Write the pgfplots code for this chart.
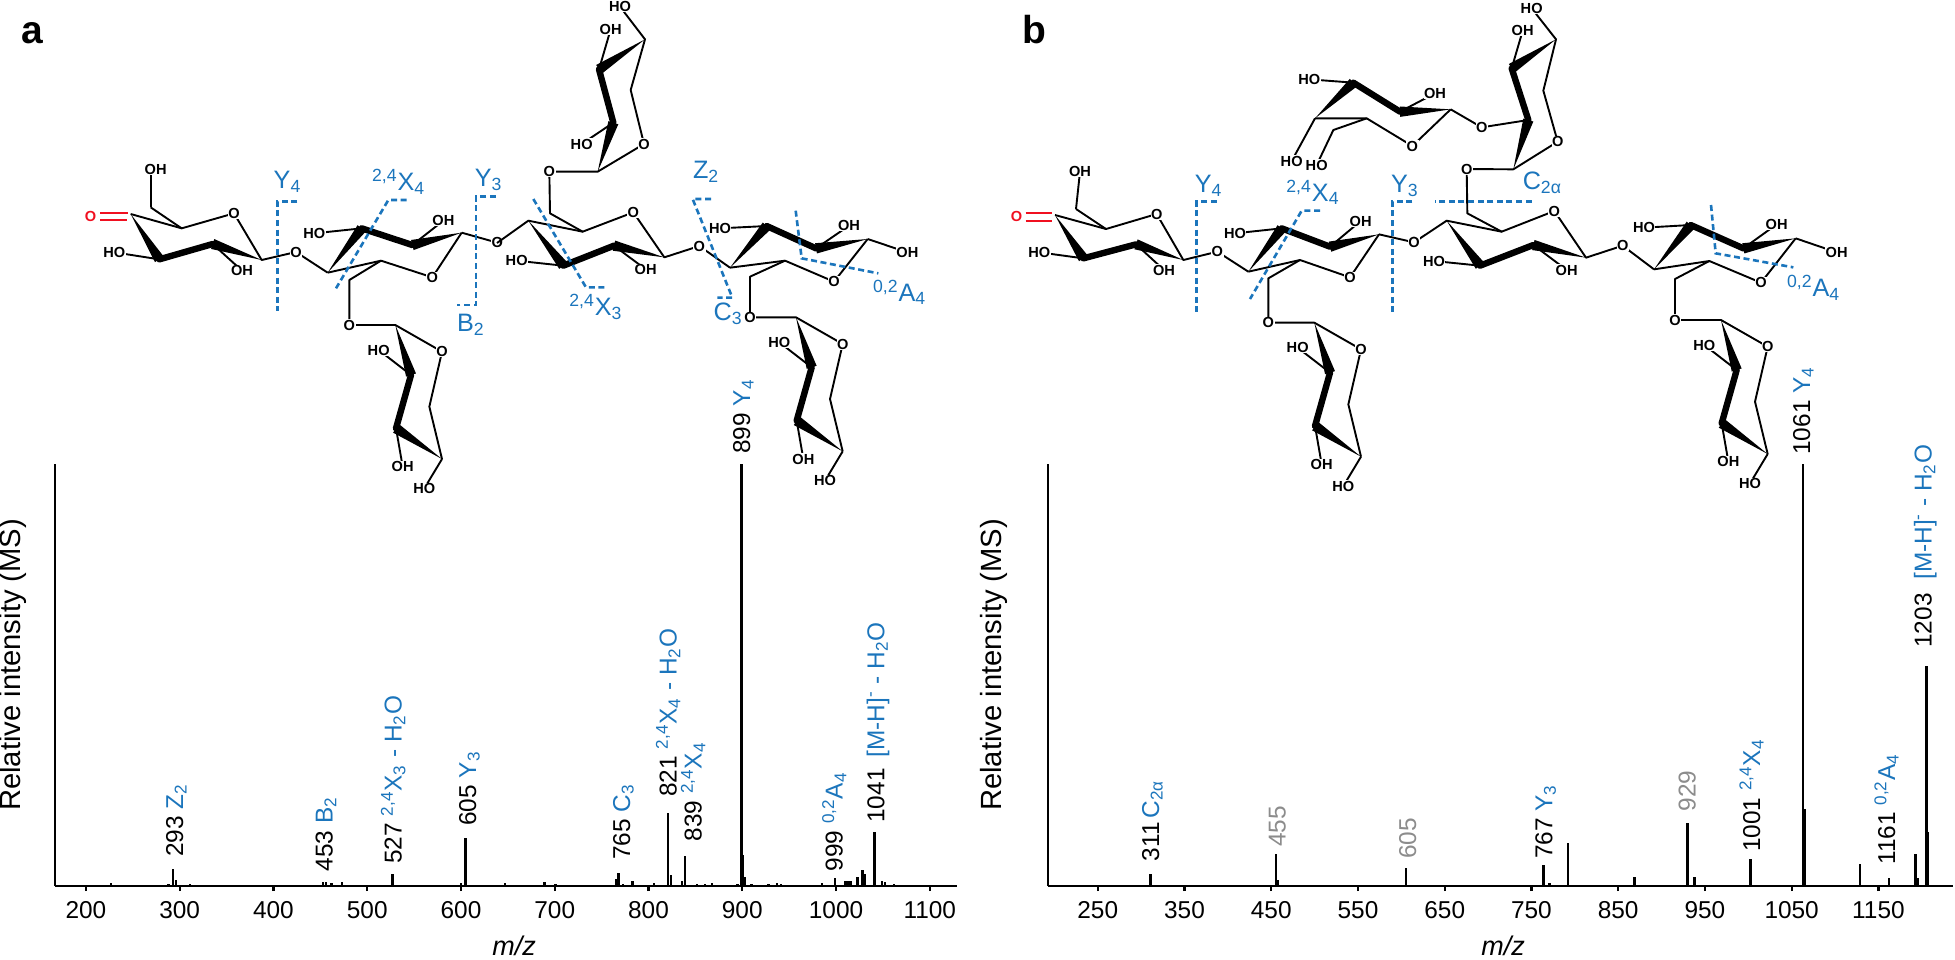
\documentclass[border=0pt]{standalone}
\usepackage{fontspec}
\setmainfont{Liberation Sans}
\usepackage{pgfplots}
\pgfplotsset{compat=1.18}
\usetikzlibrary{calc}
\definecolor{fblue}{HTML}{1B75BC}
\definecolor{fgray}{HTML}{8C8C8C}
\definecolor{fred}{HTML}{F01020}

% 1 px of the figure = 0.5pt here
\newcommand{\lblfont}{\fontsize{12.2}{14}\selectfont}
\newcommand{\atomfont}{\fontsize{7.3}{8}\selectfont\bfseries}
\newcommand{\bl}[1]{\textcolor{fblue}{#1}}
\newcommand{\sub}[1]{\textsubscript{#1}}
\newcommand{\sups}[1]{\textsuperscript{#1}}
% rotated peak label: baseline x, lower end y
\newcommand{\lab}[3]{\node[rotate=90,anchor=base west,inner sep=0pt,font=\lblfont] at (#1,#2) {#3};}
% molecule helpers, coordinates as given in the local scope
\newcommand{\wg}[2]{\fill ($(#1)$) -- ($(#2)!2.6pt!90:(#1)$) -- ($(#2)!2.6pt!-90:(#1)$) -- cycle;}
\newcommand{\tb}[2]{\draw[line width=3.2pt,line cap=round] (#1) -- (#2);}
\newcommand{\bd}[1]{\draw[line width=0.95pt,line join=round] #1;}
\newcommand{\atm}[2]{\node[fill=white,inner sep=0.25pt,font=\atomfont] at (#1) {#2};}
\newcommand{\dsh}[1]{\draw[fblue,line width=1.3pt,dash pattern=on 3pt off 1.8pt] #1;}
\newcommand{\blab}[2]{\node[anchor=base west,inner sep=0pt,text=fblue,font=\fontsize{12.6}{14}\selectfont] at (#1) {#2};}
% arabinose-type ring hanging below an O atom
\newcommand{\xyl}[2]{\begin{scope}[shift={(#1,#2)}]
  \bd{(0,0) -- (138,0) -- (278,80) -- (240,245) -- (278,402)}
  \bd{(185,150) -- (88,75)}
  \bd{(140,310) -- (160,425)}
  \bd{(278,402) -- (225,490)}
  \wg{138,0}{185,150}
  \tb{185,150}{140,310}
  \wg{278,402}{140,310}
  \atm{0,0}{O}\atm{278,80}{O}\atm{88,75}{HO}\atm{160,425}{OH}\atm{225,490}{HO}
\end{scope}}

\pgfplotsset{
  spec/.style={
    scale only axis, anchor=south west, clip=false,
    axis lines=left, axis line style={-,line width=1.25pt,black},
    tick align=outside, major tick length=2.6pt,
    tick style={black,line width=1.1pt},
    ytick=\empty, ymin=0, ymax=100,
    height=211pt,
    /pgf/number format/assume math mode=true,
    /pgf/number format/set thousands separator={},
    x tick label style={font=\fontsize{12.2}{14}\selectfont,yshift=-1.6pt},
    xlabel={\textit{m/z}}, ylabel={Relative intensity (MS)},
  },
  peak/.style={ycomb, black, mark=none, line width=1.2pt},
}

\begin{document}
\begin{tikzpicture}[x=0.5pt,y=-0.5pt]
\path[use as bounding box] (0,0) rectangle (1955,959);

% ---------- spectra
\begin{axis}[spec, at={(27.5pt,-443pt)}, width=451pt, xmin=167, xmax=1129,
  xtick={200,300,...,1100},
  every axis x label/.style={at={(axis description cs:0.509,0)},anchor=north,yshift=-21.5pt,font=\fontsize{13.5}{15}\selectfont},
  every axis y label/.style={at={(axis description cs:-0.0466,0.524)},rotate=90,anchor=center,font=\fontsize{14.6}{17}\selectfont}]
\addplot[peak] coordinates {
 (227,0.6) (288,0.4) (293,4.0) (296,1.4) (311,0.5) (412,0.2) (425,0.2) (440,0.3)
 (453,1.0) (456,1.0) (462,0.8) (473,1.0) (527,2.8) (552,0.3) (558,0.3) (570,0.3) (575,0.3)
 (605,11.3) (600,0.6) (622,0.3) (647,0.8) (689,1.0) (701,0.5) (712,0.2)
 (765,1.6) (768,3.2) (773,0.5) (783,1.1) (806,0.6)
 (821,17.2) (824,2.5) (836,1.3) (839,7.1) (852,0.4) (860,0.4) (868,0.8)
 (895,0.5) (899,100) (901,7.3) (903,2.2) (910,0.5) (928,0.5) (937,0.6) (941,0.5)
 (970,0.2) (977,0.2) (985,0.7) (999,2.0) (1010,1.3) (1012,1.3) (1014,1.3) (1016,1.3)
 (1023,2.2) (1028,3.8) (1031,2.8) (1041,12.9) (1049,1.3) (1052,1.0) (1062,0.5)};
\end{axis}

\begin{axis}[spec, at={(523.9pt,-443pt)}, width=452.6pt, xmin=192.4, xmax=1236,
  xtick={250,350,...,1150},
  every axis x label/.style={at={(axis description cs:0.503,0)},anchor=north,yshift=-21.5pt,font=\fontsize{13.5}{15}\selectfont},
  every axis y label/.style={at={(axis description cs:-0.0593,0.524)},rotate=90,anchor=center,font=\fontsize{14.6}{17}\selectfont}]
\addplot[peak] coordinates {
 (311,2.8) (455.6,7.7) (458,1.4) (605.6,4.2) (764,4.9) (770.7,0.8) (792,10.1)
 (868.6,2.2) (929.8,15) (937.9,2.2) (1002.5,6.3) (1063,100) (1064.7,18.2)
 (1129,5.2) (1162,2.0) (1192.8,7.7) (1195,2.0) (1205.5,52.1) (1207,12.7)};
\end{axis}

% ---------- peak labels, a
\lab{183}{857}{293 \bl{Z\sub{2}}}
\lab{332.7}{871.7}{453 \bl{B\sub{2}}}
\lab{401.7}{864}{527 \bl{\sups{2,4}X\sub{3} - H\sub{2}O}}
\lab{476}{826}{605 \bl{Y\sub{3}}}
\lab{630}{860}{765 \bl{C\sub{3}}}
\lab{676.7}{797}{821 \bl{\sups{2,4}X\sub{4} - H\sub{2}O}}
\lab{701.7}{841.7}{839 \bl{\sups{2,4}X\sub{4}}}
\lab{750}{454}{899 \bl{Y\sub{4}}}
\lab{842.7}{871.7}{999 \bl{\sups{0,2}A\sub{4}}}
\lab{884.3}{823}{1041 \,\bl{[M-H]\sups{-} - H\sub{2}O}}
% ---------- peak labels, b
\lab{1159}{861.7}{311\,\bl{C\sub{2α}}}
\lab{1285.7}{847.3}{\textcolor{fgray}{455}}
\lab{1416}{859.3}{\textcolor{fgray}{605}}
\lab{1552.3}{859.3}{767 \bl{Y\sub{3}}}
\lab{1695.7}{811.7}{\textcolor{fgray}{929}}
\lab{1760}{852.3}{1001 \bl{\sups{2,4}X\sub{4}}}
\lab{1810}{455}{1061 \bl{Y\sub{4}}}
\lab{1895}{865}{1161 \bl{\sups{0,2}A\sub{4}}}
\lab{1931.7}{648}{1203 \ \bl{[M-H]\sups{-} - H\sub{2}O}}

% panel letters
\node[anchor=base west,inner sep=0pt,font=\fontsize{19.5}{20}\selectfont\bfseries] at (21,43) {a};
\node[anchor=base west,inner sep=0pt,font=\fontsize{19.5}{20}\selectfont\bfseries] at (1022,43) {b};

% ---------- molecule a, left part
\begin{scope}[shift={(60,100)},x=0.16667pt,y=-0.16667pt]
  \bd{(212,342) -- (365,385) -- (522,340) -- (605,480) -- (708,456) -- (803,518)}
  \bd{(272,322) -- (365,385)}
  \bd{(272,322) -- (272,208)}
  \bd{(163,457) -- (298,478)}
  \bd{(546,512) -- (458,432)}
  \draw[fred,line width=0.9pt] (120,338) -- (205,338) (120,360) -- (200,360);
  \wg{212,342}{298,478}\tb{298,478}{458,432}\wg{605,480}{458,432}
  \atm{522,340}{O}\atm{708,456}{O}\atm{287,208}{OH}\atm{163,457}{HO}\atm{546,512}{OH}
  \node[text=fred,inner sep=0pt,font=\atomfont] at (92,348) {O};
  % second ring
  \bd{(1205,398) -- (1117,532) -- (963,482) -- (803,518)}
  \bd{(963,482) -- (868,540) -- (868,675)}
  \bd{(763,400) -- (905,385)}
  \bd{(1150,362) -- (1057,435)}
  \bd{(1205,398) -- (1312,428)}
  \wg{803,518}{905,385}\tb{905,385}{1057,435}\wg{1205,398}{1057,435}
  \atm{1117,532}{O}\atm{763,400}{HO}\atm{1150,362}{OH}\atm{1312,428}{O}
  \xyl{868}{675}
  \dsh{(712,305) -- (652,305) -- (652,632)}
  \dsh{(1040,300) -- (985,300) -- (828,565)}
  \dsh{(1308,290) -- (1248,290) -- (1248,615) -- (1190,615)}
  \blab{640,265}{Y\sub{4}}
  \blab{935,272}{\sups{2,4}X\sub{4}}
  \blab{1243,260}{Y\sub{3}}
  \blab{1190,695}{B\sub{2}}
\end{scope}

% ---------- molecule a, right part
\begin{scope}[shift={(500,0)},x=0.16667pt,y=-0.16667pt]
  \bd{(148,515) -- (293,515) -- (432,432) -- (392,270) -- (435,118) -- (360,20)}
  \bd{(245,432) -- (340,368)}
  \bd{(332,88) -- (297,208)}
  \wg{293,515}{340,368}\tb{340,368}{297,208}\wg{435,118}{297,208}
  \atm{432,432}{O}\atm{245,432}{HO}\atm{332,88}{OH}\atm{360,20}{HO}
  \bd{(148,515) -- (150,640) -- (248,695) -- (400,637) -- (493,772) -- (598,738) -- (690,803)}
  \bd{(-9,729) -- (85,662) -- (248,695)}
  \bd{(50,782) -- (190,797)}
  \bd{(437,808) -- (342,737)}
  \wg{85,662}{190,797}\tb{190,797}{342,737}\wg{493,772}{342,737}
  \atm{148,515}{O}\atm{400,637}{O}\atm{50,782}{HO}\atm{437,808}{OH}\atm{598,738}{O}
  % fourth ring
  \bd{(1103,717) -- (1002,845) -- (855,782) -- (690,803)}
  \bd{(855,782) -- (750,830) -- (750,952)}
  \bd{(660,685) -- (800,678)}
  \bd{(1047,677) -- (948,745)}
  \bd{(1103,717) -- (1222,757)}
  \wg{690,803}{800,678}\tb{800,678}{948,745}\wg{1103,717}{948,745}
  \atm{1002,845}{O}\atm{660,685}{HO}\atm{1047,677}{OH}\atm{1222,757}{OH}
  \xyl{750}{952}
  \dsh{(100,597) -- (258,862) -- (320,862)}
  \dsh{(633,597) -- (578,597) -- (697,893) -- (652,893)}
  \dsh{(887,632) -- (905,775) -- (1135,820)}
  \blab{578,535}{Z\sub{2}}
  \blab{207,945}{\sups{2,4}X\sub{3}}
  \blab{640,962}{C\sub{3}}
  \blab{1118,903}{\sups{0,2}A\sub{4}}
\end{scope}

% ---------- molecule b, left part
\begin{scope}[shift={(1000,0)},x=0.16667pt,y=-0.16667pt]
  \bd{(165,645) -- (318,687) -- (470,642) -- (550,780) -- (652,755) -- (745,815)}
  \bd{(228,627) -- (318,687)}
  \bd{(228,627) -- (240,515)}
  \bd{(118,757) -- (250,775)}
  \bd{(492,810) -- (408,733)}
  \draw[fred,line width=0.9pt] (77,640) -- (155,640) (77,662) -- (155,662);
  \wg{165,645}{250,775}\tb{250,775}{408,733}\wg{550,780}{408,733}
  \atm{470,642}{O}\atm{652,755}{O}\atm{240,515}{OH}\atm{118,757}{HO}\atm{492,810}{OH}
  \node[text=fred,inner sep=0pt,font=\atomfont] at (50,650) {O};
  \bd{(1137,703) -- (1050,832) -- (900,780) -- (745,815)}
  \bd{(900,780) -- (805,835) -- (805,968)}
  \bd{(705,700) -- (845,685)}
  \bd{(1082,663) -- (990,740)}
  \bd{(1137,703) -- (1242,727)}
  \wg{745,815}{845,685}\tb{845,685}{990,740}\wg{1137,703}{990,740}
  \atm{1050,832}{O}\atm{705,700}{HO}\atm{1082,663}{OH}\atm{1242,727}{O}
  \xyl{805}{968}
  % glucose on top
  \bd{(945,355) -- (1100,355) -- (1237,438) -- (1352,328)}
  \bd{(1100,355) -- (1000,390) -- (950,495)}
  \bd{(945,355) -- (875,483)}
  \bd{(928,238) -- (1060,248)}
  \bd{(1305,280) -- (1200,335)}
  \wg{945,355}{1060,248}\tb{1060,248}{1200,335}\wg{1352,328}{1200,335}
  \atm{1237,438}{O}\atm{950,495}{HO}\atm{875,483}{HO}\atm{928,238}{HO}\atm{1305,280}{OH}
  \dsh{(650,605) -- (590,605) -- (590,935)}
  \dsh{(960,632) -- (905,632) -- (750,897)}
  \dsh{(1237,605) -- (1177,605) -- (1177,935)}
  \blab{583,577}{Y\sub{4}}
  \blab{858,603}{\sups{2,4}X\sub{4}}
  \blab{1172,577}{Y\sub{3}}
\end{scope}

% ---------- molecule b, top sugar
\begin{scope}[shift={(1440,0)},x=0.16667pt,y=-0.16667pt]
  \bd{(32,328) -- (125,382) -- (265,360)}
  \bd{(80,507) -- (220,508) -- (353,425) -- (310,272) -- (348,118) -- (275,25)}
  \bd{(248,92) -- (215,205)}
  \wg{220,508}{265,360}\tb{265,360}{215,205}\wg{348,118}{215,205}
  \atm{125,382}{O}\atm{353,425}{O}\atm{275,25}{HO}\atm{248,92}{OH}
\end{scope}

% ---------- molecule b, right part
\begin{scope}[shift={(1450,100)},x=0.16667pt,y=-0.16667pt]
  \bd{(50,207) -- (52,340) -- (155,395) -- (313,333) -- (408,473) -- (518,437) -- (612,508)}
  \bd{(155,395) -- (-10,362) -- (-108,427)}
  \bd{(-48,483) -- (90,497)}
  \bd{(350,510) -- (250,435)}
  \wg{-10,362}{90,497}\tb{90,497}{250,435}\wg{408,473}{250,435}
  \atm{50,207}{O}\atm{313,333}{O}\atm{-48,483}{HO}\atm{350,510}{OH}\atm{518,437}{O}\atm{-108,427}{O}
  \bd{(1037,415) -- (933,548) -- (778,483) -- (612,508)}
  \bd{(778,483) -- (675,537) -- (675,660)}
  \bd{(582,383) -- (722,375)}
  \bd{(980,373) -- (880,445)}
  \bd{(1037,415) -- (1160,457)}
  \wg{612,508}{722,375}\tb{722,375}{880,445}\wg{1037,415}{880,445}
  \atm{933,548}{O}\atm{582,383}{HO}\atm{980,373}{OH}\atm{1160,457}{OH}
  \xyl{675}{660}
  \dsh{(245,305) -- (-45,305)}
  \dsh{(783,315) -- (797,460) -- (1030,502)}
  \blab{217,268}{C\sub{2α}}
  \blab{1010,590}{\sups{0,2}A\sub{4}}
\end{scope}
\end{tikzpicture}
\end{document}
